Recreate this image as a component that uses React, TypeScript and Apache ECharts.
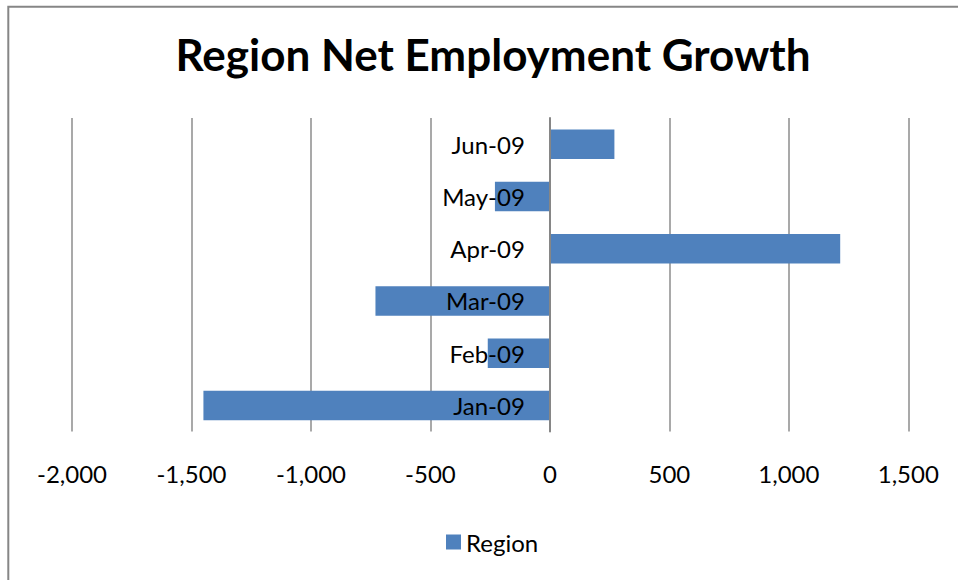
import React, { useEffect, useRef } from "react";
import * as echarts from "echarts";

const categories = ["Jan-09", "Feb-09", "Mar-09", "Apr-09", "May-09", "Jun-09"];
const regionValues = [-1450, -260, -730, 1215, -230, 270];
const seriesName = "Region";
const titleText = "Region Net Employment Growth";

const FONT = "Lato, 'Open Sans', sans-serif";

export default function App() {
  const ref = useRef<HTMLDivElement>(null);
  useEffect(() => {
    if (!ref.current) return;
    const chart = echarts.init(ref.current, null, { renderer: "svg" });
    const gridLeft = 72;
    const gridRight = 49.7;
    const xMin = -2000;
    const xMax = 1500;
    const plotW = 958 - gridLeft - gridRight;
    const zeroX = gridLeft + ((0 - xMin) / (xMax - xMin)) * plotW;
    chart.setOption({
      animation: false,
      backgroundColor: "#ffffff",
      title: {
        text: titleText,
        left: 488,
        top: 27,
        textAlign: "center",
        textStyle: { fontFamily: FONT, fontSize: 44, fontWeight: "bold", color: "#000" },
      },
      graphic: [
        {
          type: "rect",
          shape: { x: 8.3, y: 6.7, width: 1000, height: 1000 },
          style: { fill: "none", stroke: "#868686", lineWidth: 2 },
          silent: true,
        },
      ],
      legend: {
        data: [seriesName],
        left: 441,
        top: 525,
        icon: "rect",
        itemWidth: 15,
        itemHeight: 15,
        itemGap: 10,
        textStyle: { fontFamily: FONT, fontSize: 24, color: "#000" },
      },
      grid: {
        left: gridLeft,
        right: gridRight,
        top: 118,
        height: 313.5,
        containLabel: false,
        outerBoundsMode: "none",
      },
      xAxis: {
        type: "value",
        min: xMin,
        max: xMax,
        interval: 500,
        axisLine: { show: false },
        axisTick: { show: false },
        splitLine: { show: true, lineStyle: { color: "#8c8c8c", width: 1.5 } },
        axisLabel: {
          fontFamily: FONT,
          fontSize: 24,
          color: "#000",
          margin: 30,
          formatter: (v: number) => v.toLocaleString("en-US"),
        },
      },
      yAxis: {
        type: "category",
        data: categories,
        z: 5,
        axisLine: { show: true, onZero: true, lineStyle: { color: "#868686", width: 2 } },
        axisTick: { show: false },
        splitLine: { show: false },
        axisLabel: {
          fontFamily: FONT,
          fontSize: 24,
          color: "#000",
          margin: -(zeroX - gridLeft - 25),
        },
      },
      series: [
        {
          name: seriesName,
          type: "bar",
          data: regionValues,
          barWidth: 29.5,
          z: 2,
          itemStyle: { color: "#4F81BD" },
        },
      ],
    });
    return () => chart.dispose();
  }, []);
  return (
    <div
      ref={ref}
      style={{ position: "fixed", left: 0, top: 0, width: 958, height: 580 }}
    />
  );
}
